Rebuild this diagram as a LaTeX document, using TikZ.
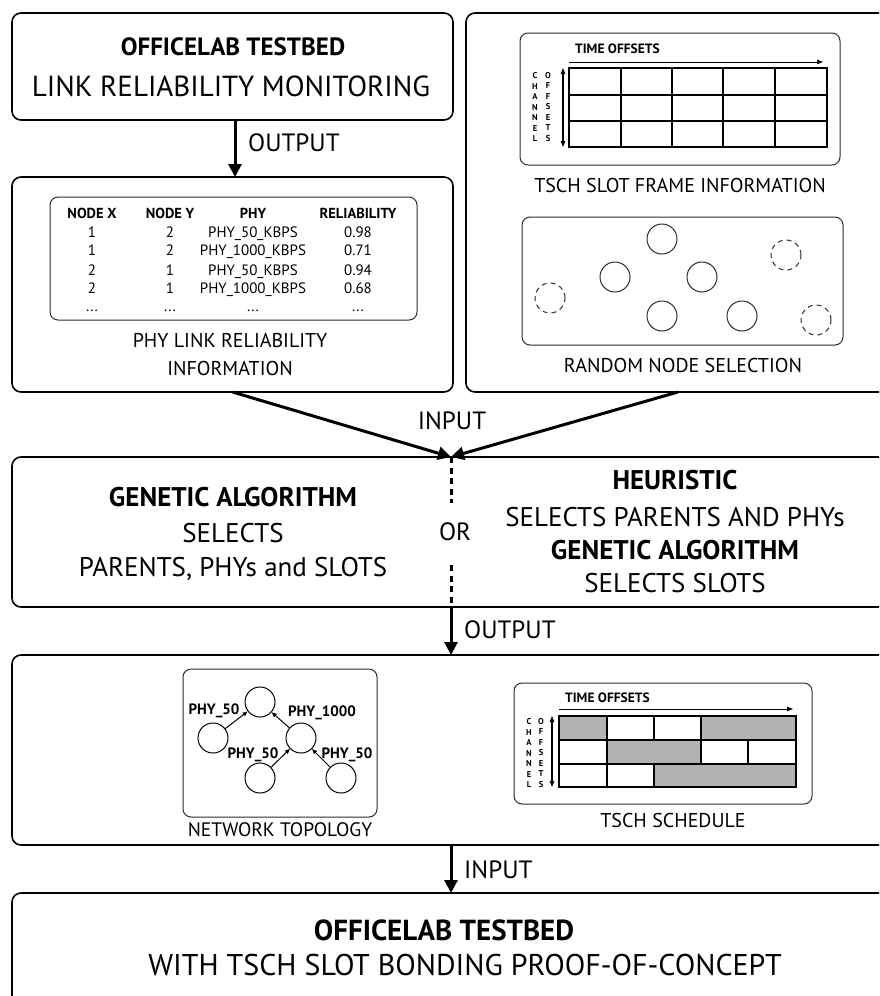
\documentclass[tikz,border=0pt]{standalone}
\usepackage{fontspec}
\setmainfont{PT Sans}
\usetikzlibrary{arrows.meta}
\definecolor{cellgray}{RGB}{178,178,178}
\definecolor{innerc}{RGB}{45,45,45}
\tikzset{
  bigbox/.style={draw=black, line width=1.6pt, rounded corners=9pt, anchor=north west, inner sep=0pt, outer sep=0pt},
  innerbox/.style={draw=innerc, line width=1pt, rounded corners=8pt, anchor=north west, inner sep=0pt, outer sep=0pt},
  flow/.style={line width=3pt, -{Triangle[length=13pt,width=13pt]}},
  dashline/.style={line width=3pt, dash pattern=on 6pt off 4.5pt},
  fs/.style={inner sep=0pt, font=\fontsize{#1}{#1}\selectfont, text height=0.7*#1pt, text depth=0pt},
  fb/.style={inner sep=0pt, font=\fontsize{#1}{#1}\selectfont\bfseries, text height=0.7*#1pt, text depth=0pt},
  gridl/.style={line width=1.5pt, draw=black},
  tarrow/.style={line width=1pt, -{Triangle[length=6pt,width=4.5pt]}},
  darrow/.style={line width=1.2pt, {Triangle[length=6pt,width=4.5pt]}-{Triangle[length=6pt,width=4.5pt]}},
  rnode/.style={circle, draw=innerc, line width=1pt, minimum size=30pt, inner sep=0pt},
  dnode/.style={rnode, dash pattern=on 5pt off 4pt},
  tarr/.style={line width=1pt, -{Triangle[length=5pt,width=4pt]}},
  letters/.style={inner sep=0pt, align=center, font=\fontsize{8.5}{10.5}\selectfont\bfseries},
}
\begin{document}
\begin{tikzpicture}[x=1pt,y=-1pt]
\useasboundingbox (0,0) rectangle (879,996);
\clip (0,0) rectangle (879,996);

% big boxes
\node[bigbox, minimum width=441pt, minimum height=107pt] (b1) at (12,13) {};
\node[bigbox, minimum width=441pt, minimum height=215pt] (b2) at (12,177) {};
\node[bigbox, minimum width=424pt, minimum height=379pt] (rb) at (466,13) {};
\node[bigbox, minimum width=878pt, minimum height=150pt] (b3) at (12,457) {};
\node[bigbox, minimum width=878pt, minimum height=190pt] (b4) at (12,655) {};
\node[bigbox, minimum width=878pt, minimum height=130pt] (b5) at (12,893) {};

% box 1 text
\node[fb=25] (t1a) at (233,47) {OFFICELAB TESTBED};
\node[fs=29] (t1b) at (231,86) {LINK RELIABILITY MONITORING};

% arrow output 1
\coordinate (a1) at (235,0);
\draw[flow] (b1.south -| a1) -- (b2.north -| a1);
\node[fs=25, anchor=west] (o1) at (248,143) {OUTPUT};

% box 2: table
\node[innerbox, minimum width=367pt, minimum height=123pt] (tab) at (50,197) {};
\node[fb=14.5] (h1) at (92,213) {NODE X};
\node[fb=14.5] (h2) at (170,213) {NODE Y};
\node[fb=14.5] (h3) at (253,213) {PHY};
\node[fb=14.5] (h4) at (358,213) {RELIABILITY};
\node[fs=15] (r11) at (92,232) {1};
\node[fs=15] (r12) at (170,232) {2};
\node[fs=15] (r13) at (253,232) {PHY\_50\_KBPS};
\node[fs=15] (r14) at (358,232) {0.98};
\node[fs=15] (r21) at (92,250) {1};
\node[fs=15] (r22) at (170,250) {2};
\node[fs=15] (r23) at (253,250) {PHY\_1000\_KBPS};
\node[fs=15] (r24) at (358,250) {0.71};
\node[fs=15] (r31) at (92,270) {2};
\node[fs=15] (r32) at (170,270) {1};
\node[fs=15] (r33) at (253,270) {PHY\_50\_KBPS};
\node[fs=15] (r34) at (358,270) {0.94};
\node[fs=15] (r41) at (92,288) {2};
\node[fs=15] (r42) at (170,288) {1};
\node[fs=15] (r43) at (253,288) {PHY\_1000\_KBPS};
\node[fs=15] (r44) at (358,288) {0.68};
\node[fs=15] (r51) at (92,306) {...};
\node[fs=15] (r52) at (170,306) {...};
\node[fs=15] (r53) at (253,306) {...};
\node[fs=15] (r54) at (358,306) {...};
\node[fs=20] (c2a) at (230,340) {PHY LINK RELIABILITY};
\node[fs=20] (c2b) at (230,368) {INFORMATION};

% right box: slot frame
\node[innerbox, minimum width=320pt, minimum height=132pt] (sf) at (520,33) {};
\node[fb=13.5, anchor=west] (sft) at (575,49) {TIME OFFSETS};
\coordinate (sfa) at (569,62);
\coordinate (sfb) at (823,62);
\draw[tarrow] (sfa) -- (sfb);
\draw[gridl] (569,68) rectangle (827,147);
\foreach \x in {621,672,723,775} \draw[gridl] (\x,68) -- (\x,147);
\foreach \y in {95,121} \draw[gridl] (569,\y) -- (827,\y);
\coordinate (sfv1) at (563,68);
\coordinate (sfv2) at (563,147);
\draw[darrow] (sfv1) -- (sfv2);
\node[letters] (sfc) at (535,107) {C\\H\\A\\N\\N\\E\\L};
\node[letters] (sfo) at (548,107) {O\\F\\F\\S\\E\\T\\S};
\node[fs=20] (sfcap) at (680,185) {TSCH SLOT FRAME INFORMATION};

% right box: random node selection
\node[innerbox, minimum width=321pt, minimum height=128pt] (rn) at (522,217) {};
\node[rnode] (n1) at (662,239) {};
\node[rnode] (n2) at (615,277) {};
\node[rnode] (n3) at (702,277) {};
\node[rnode] (n4) at (662,316) {};
\node[rnode] (n5) at (742,316) {};
\node[dnode] (d1) at (550,298) {};
\node[dnode] (d2) at (786,255) {};
\node[dnode] (d3) at (816,320) {};
\node[fs=20] (rncap) at (683,365) {RANDOM NODE SELECTION};

% input arrows
\draw[flow] (b2.south) -- (b3.north);
\draw[flow] (rb.south) -- (b3.north);
\node[fs=25] (in1) at (452,421) {INPUT};

% box 3
\node[fs=25] (orl) at (455,532) {OR};
\coordinate (dd1) at (451,503);
\coordinate (dd2) at (451,565);
\draw[dashline] (b3.north) -- (dd1);
\draw[dashline] (dd2) -- (b3.south);
\node[fb=27] (g1) at (233,497) {GENETIC ALGORITHM};
\node[fs=27] (g2) at (233,533) {SELECTS};
\node[fs=27] (g3) at (233,567) {PARENTS, PHYs and SLOTS};
\node[fb=27] (h1r) at (675,480) {HEURISTIC};
\node[fs=27] (h2r) at (675,517) {SELECTS PARENTS AND PHYs};
\node[fb=27] (h3r) at (675,550) {GENETIC ALGORITHM};
\node[fs=27] (h4r) at (675,583) {SELECTS SLOTS};

% output arrow 2
\draw[flow] (b3.south) -- (b4.north);
\node[fs=25, anchor=west] (o2) at (464,630) {OUTPUT};

% box 4: network topology
\node[innerbox, minimum width=194pt, minimum height=148pt] (nt) at (183,669) {};
\node[rnode, draw=black] (tp) at (260,702) {};
\node[rnode, draw=black] (tl) at (213,738) {};
\node[rnode, draw=black] (tm) at (301,738) {};
\node[rnode, draw=black] (tb1) at (260,778) {};
\node[rnode, draw=black] (tb2) at (341,778) {};
\draw[tarr] (tl) -- (tp);
\draw[tarr] (tm) -- (tp);
\draw[tarr] (tb1) -- (tm);
\draw[tarr] (tb2) -- (tm);
\node[fb=15] (p1) at (214,709) {PHY\_50};
\node[fb=15] (p2) at (322,711) {PHY\_1000};
\node[fb=15] (p3) at (253,753) {PHY\_50};
\node[fb=15] (p4) at (347,753) {PHY\_50};
\node[fs=19.5] (ntcap) at (280,830) {NETWORK TOPOLOGY};

% box 4: TSCH schedule
\node[innerbox, minimum width=298pt, minimum height=121pt] (ts) at (514,683) {};
\node[fb=13.5, anchor=west] (tst) at (565,698) {TIME OFFSETS};
\coordinate (tsa) at (559,709);
\coordinate (tsb) at (793,709);
\draw[tarrow] (tsa) -- (tsb);
\fill[cellgray] (559,716) rectangle (607,740);
\fill[cellgray] (701,716) rectangle (796,740);
\fill[cellgray] (607,740) rectangle (701,764);
\fill[cellgray] (654,764) rectangle (796,787);
\draw[gridl] (559,716) rectangle (796,787);
\draw[gridl] (559,740) -- (796,740);
\draw[gridl] (559,764) -- (796,764);
\foreach \x in {607,654,701} \draw[gridl] (\x,716) -- (\x,740);
\foreach \x in {607,701,748} \draw[gridl] (\x,740) -- (\x,764);
\foreach \x in {607,654} \draw[gridl] (\x,764) -- (\x,787);
\coordinate (tsv1) at (552,716);
\coordinate (tsv2) at (552,787);
\draw[darrow] (tsv1) -- (tsv2);
\node[letters] (tsc) at (529,753) {C\\H\\A\\N\\N\\E\\L};
\node[letters] (tso) at (541,753) {O\\F\\F\\S\\E\\T\\S};
\node[fs=20] (tscap) at (673,820) {TSCH SCHEDULE};

% input arrow 3
\draw[flow] (b4.south) -- (b5.north);
\node[fs=25, anchor=west] (in2) at (464,870) {INPUT};

% box 5
\node[fb=29] (f1) at (444,930) {OFFICELAB TESTBED};
\node[fs=30] (f2) at (465,965) {WITH TSCH SLOT BONDING PROOF-OF-CONCEPT};
\end{tikzpicture}
\end{document}
